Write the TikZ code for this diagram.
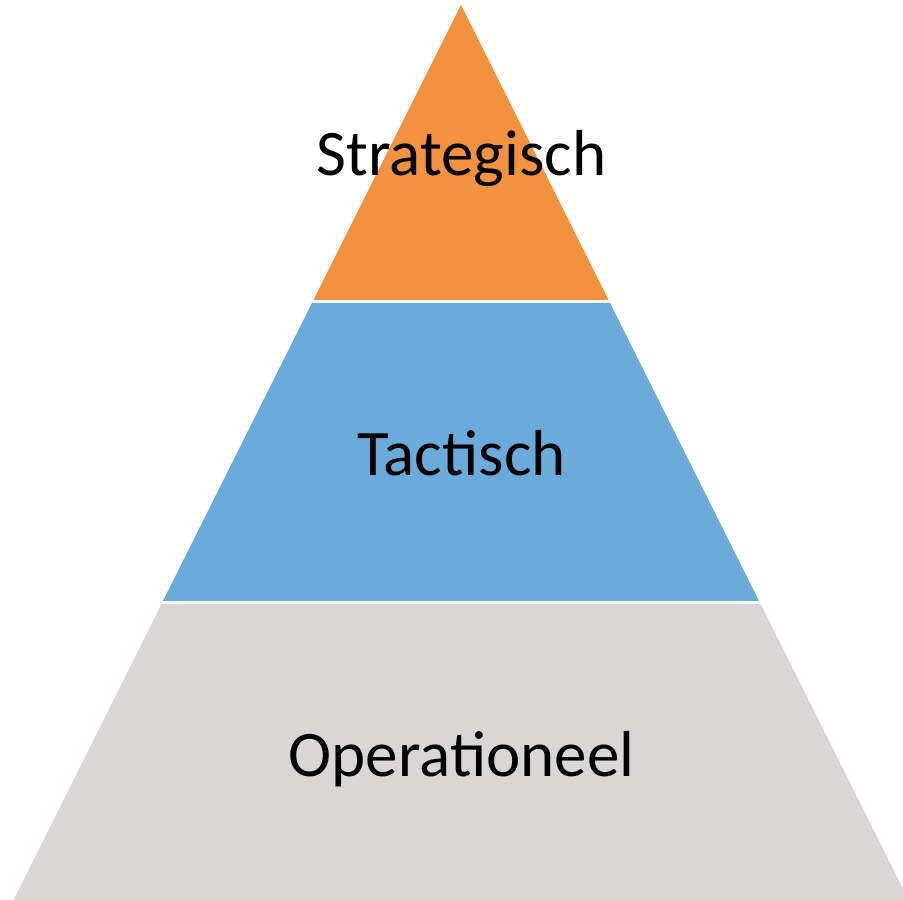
\documentclass[tikz,border=0pt]{standalone}
\usepackage{fontspec}
\setmainfont{Carlito}
\definecolor{layerorange}{HTML}{F29241}
\definecolor{layerblue}{HTML}{6AABDB}
\definecolor{layergrey}{HTML}{D8D7D6}
\begin{document}
\begin{tikzpicture}[x=1pt,y=1pt,
  label/.style={font=\fontsize{65}{70}\selectfont, text=black, anchor=base, inner sep=0pt}]
\useasboundingbox (0,0) rectangle (903,900);
\clip (0,0) rectangle (903,900);
% apex at px (461,5)
\coordinate (apex) at (461,895);
\fill[layerorange] (apex) -- (313.5,600) -- (608.5,600) -- cycle;
\fill[layerblue] (312,597) -- (610,597) -- (759,299) -- (163,299) -- cycle;
\fill[layergrey] (161.5,296) -- (760.5,296) -- (915,-13) -- (7,-13) -- cycle;
\node[label] (s) at (461.5,724) {Strategisch};
\node[label] (t) at (461.5,424) {Tactisch};
\node[label] (o) at (461.5,123) {Operationeel};
\end{tikzpicture}
\end{document}
